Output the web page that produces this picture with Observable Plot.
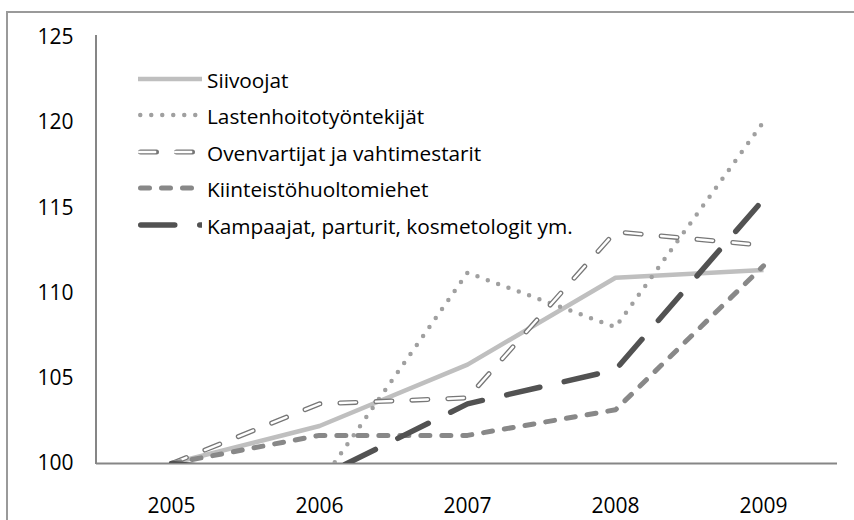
<!DOCTYPE html>
<html>
<head>
<meta charset="utf-8">
<script src="https://cdn.jsdelivr.net/npm/d3@7"></script>
<script src="https://cdn.jsdelivr.net/npm/@observablehq/plot@0.6"></script>
<style>
  html, body { margin: 0; padding: 0; background: #fff; }
  #wrap { position: relative; width: 854px; height: 520px; overflow: hidden; font-family: "Open Sans", sans-serif; background: #fff; }
  #chart { position: absolute; left: 0; top: 0; }
  .leg { position: absolute; left: 136px; height: 26px; display: flex; align-items: center; white-space: pre; font-size: 20.8px; color: #000; }
  .leg svg { margin-right: 5px; }
  #topline { position: absolute; left: 6px; top: 11px; width: 848px; height: 0; border-top: 2px solid #9a9a9a; }
</style>
</head>
<body>
<div id="wrap"><div id="chart"></div><div id="topline"></div></div>
<script>
const years = [2005, 2006, 2007, 2008, 2009];
const seriesNames = ["Siivoojat", "Lastenhoitotyöntekijät", "Ovenvartijat ja vahtimestarit", "Kiinteistöhuoltomiehet", "Kampaajat, parturit, kosmetologit ym."];
const siivoojat    = [100, 102.2, 105.8, 110.9, 111.35];
const lastenhoito  = [100, 98.8, 111.2, 108.0, 120.05];
const ovenvartijat = [100, 103.5, 103.85, 113.6, 112.8];
const kiinteisto   = [100, 101.65, 101.65, 103.15, 111.6];
const kampaajat    = [100, 99.2, 103.5, 105.5, 115.5];
const yTicks = [100, 105, 110, 115, 120, 125];

const rows = vals => years.map((year, i) => ({year, value: vals[i]}));

const styles = [
  {stroke: "#bfbfbf", strokeWidth: 4.5},
  {stroke: "#a0a0a0", strokeWidth: 4.5, strokeDasharray: "0 11", strokeLinecap: "round"},
  {stroke: "#777777", strokeWidth: 5, strokeDasharray: "16 20", strokeLinecap: "round", inner: true},
  {stroke: "#888888", strokeWidth: 5, strokeDasharray: "9 12", strokeLinecap: "round"},
  {stroke: "#525252", strokeWidth: 5.5, strokeDasharray: "34 25", strokeLinecap: "round"}
];
const allSeries = [siivoojat, lastenhoito, ovenvartijat, kiinteisto, kampaajat];

const lineMarks = [];
allSeries.forEach((vals, i) => {
  const s = styles[i];
  lineMarks.push(Plot.line(rows(vals), {x: "year", y: "value", stroke: s.stroke, strokeWidth: s.strokeWidth,
    strokeDasharray: s.strokeDasharray, strokeLinecap: s.strokeLinecap || "butt", strokeLinejoin: "round", clip: true}));
  if (s.inner) {
    lineMarks.push(Plot.line(rows(vals), {x: "year", y: "value", stroke: "#ffffff", strokeWidth: 2.4,
      strokeDasharray: s.strokeDasharray, strokeLinecap: "round", strokeLinejoin: "round", clip: true}));
  }
});

const chart = Plot.plot({
  width: 854,
  height: 520,
  marginLeft: 96,
  marginRight: 17,
  marginTop: 37,
  marginBottom: 57,
  style: {fontFamily: "Open Sans", fontSize: "21px", color: "#000", background: "transparent", overflow: "visible"},
  x: {type: "point", domain: years, padding: 0.5, tickSize: 0, tickPadding: 35, label: null, tickFormat: d => String(d)},
  y: {domain: [100, 125], ticks: yTicks, tickSize: 0, tickPadding: 23, label: null},
  marks: [
    Plot.ruleY([100], {stroke: "#868686", strokeWidth: 2}),
    ...lineMarks
  ]
});
document.getElementById("chart").appendChild(chart);

// y-axis line using the chart's scales
const xs = chart.scale("x").range;
const ys = chart.scale("y").range;
const sel = d3.select(chart);
sel.append("line")
  .attr("x1", xs[0]).attr("x2", xs[0])
  .attr("y1", ys[1] - 2).attr("y2", ys[0] + 1)
  .attr("stroke", "#868686").attr("stroke-width", 2);

// outer chart-area border (top and left edges visible)
sel.append("line")
  .attr("x1", 7).attr("x2", 7).attr("y1", 12).attr("y2", 520)
  .attr("stroke", "#9a9a9a").attr("stroke-width", 2);
sel.append("line")
  .attr("x1", 6).attr("x2", 854).attr("y1", 12).attr("y2", 12)
  .attr("stroke", "#9a9a9a").attr("stroke-width", 2);

// legend
const wrap = document.getElementById("wrap");
const rowCenters = [79.5, 116, 152.5, 189, 225.5];
seriesNames.forEach((name, i) => {
  const s = styles[i];
  const div = document.createElement("div");
  div.className = "leg";
  div.style.top = (rowCenters[i] - 13) + "px";
  const svg = d3.create("svg").attr("width", 66).attr("height", 14);
  const add = (stroke, w) => svg.append("line")
    .attr("x1", s.strokeLinecap === "round" ? 2 + w / 2 : 2).attr("x2", 66)
    .attr("y1", 6).attr("y2", 6)
    .attr("stroke", stroke).attr("stroke-width", w)
    .attr("stroke-dasharray", s.strokeDasharray || null)
    .attr("stroke-linecap", s.strokeLinecap || "butt");
  add(s.stroke, s.strokeWidth);
  if (s.inner) add("#ffffff", 2.4);
  div.appendChild(svg.node());
  const span = document.createElement("span");
  span.textContent = name;
  div.appendChild(span);
  wrap.appendChild(div);
});
</script>
</body>
</html>
